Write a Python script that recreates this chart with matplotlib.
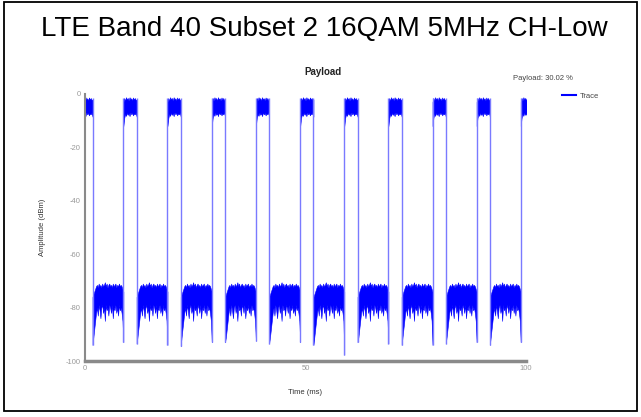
import numpy as np
import matplotlib
matplotlib.use("Agg")
import matplotlib.pyplot as plt
from matplotlib.lines import Line2D
from matplotlib.patches import Rectangle

plt.rcParams["font.family"] = ["Liberation Sans", "DejaVu Sans"]
plt.rcParams["axes.unicode_minus"] = False

# ---- data -------------------------------------------------------------
title = "LTE Band 40 Subset 2 16QAM 5MHz CH-Low"
frame_ms = 10.0
payload_pct = 30.02
burst_len = frame_ms * payload_pct / 100.0

# start time (ms) of every transmit burst
burst_start = [-1.3, 8.7, 18.7, 28.75, 38.75, 48.8, 58.8, 68.8, 78.8, 88.8, 98.8]
# lowest level reached just before each rising edge (dBm)
pre_dip = [-93.0, -93.0, -94.0, -93.0, -92.5, -93.0, -97.7, -93.5, -94.0, -93.0, -93.0]
# lowest level reached just after each falling edge (dBm)
post_dip = [-94.0, -93.5, -94.5, -93.0, -93.5, -94.0, -93.0, -94.0, -93.5, -94.0, -93.0]

# envelope of the signal while transmitting (ms from burst start, dBm)
on_rel = [0.0, 0.2, 0.4, 0.6, 0.8, 1.0, 1.2, 1.4, 1.6, 1.8, 2.0, 2.2, 2.4, 2.6, 2.8, 3.0]
on_hi = [-3.0, -1.5, -2.5, -1.2, -2.0, -1.5, -2.5, -1.2, -2.0, -1.6, -2.4, -1.3, -2.1, -1.5, -2.3, -2.0]
on_lo = [-12.0, -9.0, -7.5, -8.2, -7.0, -7.8, -7.2, -8.3, -6.9, -7.6, -7.1, -8.0, -7.3, -7.6, -7.0, -8.5]

# envelope of the noise floor between bursts (ms from falling edge, dBm)
off_rel = [0.0, 0.2, 0.4, 0.6, 0.8, 1.0, 1.2, 1.4, 1.6, 1.8, 2.0, 2.2, 2.4, 2.6,
           2.8, 3.0, 3.2, 3.4, 3.6, 3.8, 4.0, 4.2, 4.4, 4.6, 4.8, 5.0, 5.2, 5.4,
           5.6, 5.8, 6.0, 6.2, 6.4, 6.6, 6.8, 7.0]
off_hi = [-76.0, -75.0, -74.0, -73.0, -72.0, -71.5, -72.5, -71.0, -72.0, -71.5, -72.5, -71.0,
          -72.0, -71.5, -70.5, -72.0, -71.0, -72.5, -71.5, -71.0, -72.0, -71.5, -72.5, -71.0,
          -72.0, -71.5, -71.0, -72.5, -71.5, -72.0, -71.0, -72.0, -71.5, -72.0, -73.0, -74.0]
off_lo = [-93.0, -91.0, -88.0, -85.0, -82.0, -80.0, -83.0, -79.0, -81.0, -84.0, -80.0, -79.0,
          -82.0, -80.0, -85.0, -79.0, -81.0, -80.0, -83.0, -79.0, -80.0, -82.0, -79.0, -84.0,
          -80.0, -81.0, -79.0, -82.0, -80.0, -83.0, -79.0, -81.0, -80.0, -82.0, -85.0, -86.0]

x_ticks = [0, 50, 100]
y_ticks = [0, -20, -40, -60, -80, -100]

# ---- figure -----------------------------------------------------------
fig = plt.figure(figsize=(6.41, 4.17), dpi=100)
W, H = 641.0, 417.0

# outer frame
fig.patches.append(Rectangle((4 / W, 1 - 411 / H), 633 / W, 409 / H,
                             transform=fig.transFigure, fill=False,
                             edgecolor="black", linewidth=1.3))
fig.text(324 / W, 1 - 29 / H, title, ha="center", va="center", fontsize=20)

ax = fig.add_axes([85 / W, 1 - 361 / H, 441 / W, 267 / H])
blue = "#0000ff"
edge = "#7a7aff"

on_rel_a = np.array(on_rel)
off_rel_a = np.array(off_rel)
for i, s in enumerate(burst_start):
    e = s + burst_len
    # transmitting part
    ax.fill_between(s + on_rel_a * burst_len / on_rel[-1], on_lo, on_hi,
                    color=blue, linewidth=0.4)
    # rising and falling edges
    ax.vlines([s], pre_dip[i], -1.5, color=edge, linewidth=1.0)
    ax.vlines([e], post_dip[i], -1.5, color=edge, linewidth=1.0)
    # noise floor until the next burst
    if i + 1 < len(burst_start):
        gap = burst_start[i + 1] - e
        t = e + off_rel_a * gap / off_rel[-1]
        lo = np.array(off_lo)
        lo[0] = post_dip[i]
        lo[-1] = pre_dip[i + 1]
        ax.fill_between(t, lo, off_hi, color=blue, linewidth=0.4)

ax.set_xlim(0, 100)
ax.set_ylim(-100, 0)
ax.set_xticks(x_ticks)
ax.set_yticks(y_ticks)
ax.tick_params(length=0, labelsize=5.5, labelcolor="#9a9a9a", pad=3)
for side in ("top", "right"):
    ax.spines[side].set_visible(False)
ax.spines["left"].set_color("#8a8a8a")
ax.spines["left"].set_linewidth(1.5)
ax.spines["bottom"].set_color("#8a8a8a")
ax.spines["bottom"].set_linewidth(2.5)

ax.set_xlabel("Time (ms)", fontsize=5.5, color="#333333", labelpad=12)
ax.set_ylabel("Amplitude (dBm)", fontsize=5.5, color="#333333", labelpad=14)
ax.set_title("Payload", fontsize=7, fontweight="bold", color="#222222", pad=14, x=0.54)

fig.text(513 / W, 1 - 79 / H, f"Payload: {payload_pct:.2f} %", fontsize=5.5,
         color="#444444", ha="left", va="center")
ax.legend(handles=[Line2D([], [], color=blue, linewidth=1.5, label="Trace")],
          loc="center left", bbox_to_anchor=(555 / W, 1 - 96 / H),
          bbox_transform=fig.transFigure, frameon=False, fontsize=5.5,
          handlelength=1.8, handletextpad=0.6, labelcolor="#444444")

fig.savefig("out.png", dpi=100)
